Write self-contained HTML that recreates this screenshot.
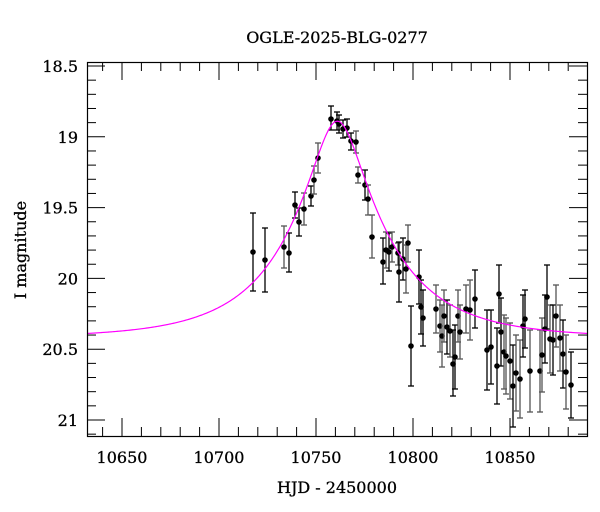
<!DOCTYPE html>
<html><head><meta charset="utf-8"><style>
html,body{margin:0;padding:0;background:#fff;}
svg{display:block;font-family:"DejaVu Serif","Liberation Serif",serif;}
</style></head><body>
<svg id="s" width="600" height="512" viewBox="0 0 600 512" xmlns="http://www.w3.org/2000/svg">
<rect width="600" height="512" fill="#fff"/>
<text x="337" y="43" font-size="16" text-anchor="middle" stroke="#000" stroke-width="0.3">OGLE-2025-BLG-0277</text>
<text x="337" y="493" font-size="16" text-anchor="middle" stroke="#000" stroke-width="0.3">HJD - 2450000</text>
<text transform="translate(26,250) rotate(-90)" font-size="16" text-anchor="middle" stroke="#000" stroke-width="0.3">I magnitude</text>
<g id="ticks" stroke="#000" stroke-width="1"></g>
<g id="labels" font-size="16" stroke="#000" stroke-width="0.3"></g>
<g id="data"></g>
<path id="model" fill="none" stroke="#ff00ff" stroke-width="1.2"/>
<rect x="87.5" y="62.5" width="500" height="374" fill="none" stroke="#000" stroke-width="1.2"/>
</svg>
<script>
var NS="http://www.w3.org/2000/svg";
function X(t){return 122+(t-10650)*1.94;}
function Y(m){return 66+(m-18.5)*141.6;}
function el(p,tag,a,txt){var e=document.createElementNS(NS,tag);for(var k in a)e.setAttribute(k,a[k]);if(txt)e.textContent=txt;p.appendChild(e);return e;}
var tk=document.getElementById('ticks'),lb=document.getElementById('labels');
for(var t=10640;t<=10880;t+=10){var x=X(t),L=(t%50==0)?18:9;
 el(tk,'line',{x1:x,y1:436,x2:x,y2:436-L});el(tk,'line',{x1:x,y1:62,x2:x,y2:62+L});
 if(t%50==0)el(lb,'text',{x:x,y:463,'text-anchor':'middle'},String(t));}
for(var i=0;i<=26;i++){var m=18.5+i*0.1,y=Y(m);if(y>436)break;var L=(i%5==0)?18:9;
 el(tk,'line',{x1:87,y1:y,x2:87+L,y2:y});el(tk,'line',{x1:587,y1:y,x2:587-L,y2:y});
 if(i%5==0){var s=(Math.round(m*10)/10).toString();el(lb,'text',{x:78,y:y+6,'text-anchor':'end'},s);}}
var d="";for(var x=88;x<=587;x+=1){var t=10650+(x-122)/1.94,u0=0.25,tE=51,u=Math.sqrt(u0*u0+Math.pow((t-10761)/tE,2));
 var A=(u*u+2)/(u*Math.sqrt(u*u+4));var m=20.42-2.5*Math.log10(A);d+=(x==88?"M":"L")+x+","+Y(m).toFixed(2);}
document.getElementById('model').setAttribute('d',d);
var pts=[[253,252,213,291],[265,260,228,292],[284,247,226,268],[289,253,233,272],[295,205,192,218],[299,222,208,236],[304,209,193,225],[311,196,186,206],[314,180,166,194],[318,158,143,173],[331,119,106,130],[337,121,112,130],[339,124,115,133],[343,129,120,138],[347,128,119,137],[351,141,133,150],[356,142,131,153],[358,175,167,183],[365,185,170,200],[368,199,185,215],[372,237,215,258],[383,262,238,284],[386,250,232,268],[389,252,233,271],[392,247,232,262],[398,253,243,265],[399,272,242,302],[403,259,238,280],[406,269,245,293],[408,243,225,262],[411,346,306,386],[419,277,250,304],[421,307,280,334],[423,318,290,346],[436,309,285,333],[440,326,300,352],[442,336,305,367],[444,316,290,342],[447,327,300,354],[450,331,305,357],[453,364,330,396],[455,357,325,389],[458,316,290,342],[460,332,305,359],[466,309,285,333],[470,310,280,340],[475,299,270,328],[487,350,310,390],[491,347,310,384],[497,366,328,404],[499,294,265,323],[501,332,298,366],[504,352,315,389],[506,356,318,394],[510,361,323,399],[513,386,345,427],[516,373,335,411],[520,379,340,418],[523,326,295,357],[525,319,290,348],[530,371,330,412],[540,371,330,412],[542,355,318,392],[545,329,295,363],[547,297,265,329],[550,339,305,373],[553,340,305,375],[556,316,285,347],[560,338,305,371],[563,354,320,388],[566,372,335,409],[571,385,352,418]];
var g=document.getElementById('data');
pts.forEach(function(p){var st=p[0]%2?"#000":"#555";
 el(g,'line',{x1:p[0],y1:p[2],x2:p[0],y2:p[3],stroke:st,'stroke-width':1.3});
 el(g,'line',{x1:p[0]-3,y1:p[2],x2:p[0]+3,y2:p[2],stroke:st,'stroke-width':1.3});
 el(g,'line',{x1:p[0]-3,y1:p[3],x2:p[0]+3,y2:p[3],stroke:st,'stroke-width':1.3});
 el(g,'circle',{cx:p[0],cy:p[1],r:2.8,fill:"#000"});});
</script>
</body></html>
